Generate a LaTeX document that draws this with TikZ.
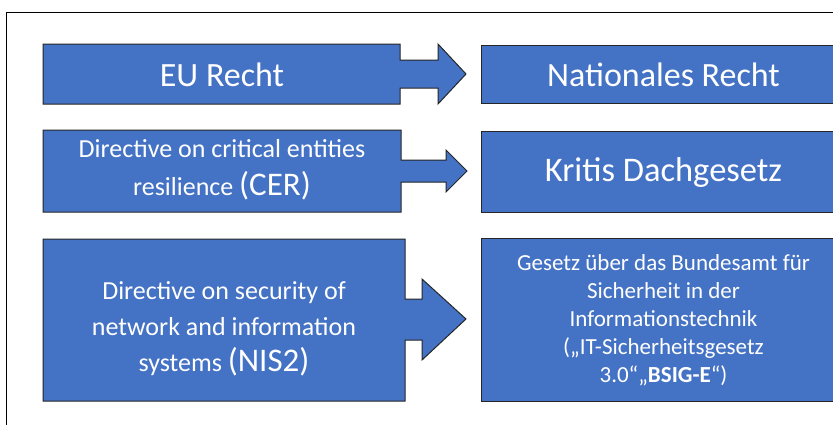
\documentclass[tikz,border=0pt]{standalone}
\usepackage{fontspec}
\setmainfont{Carlito}
\usetikzlibrary{positioning}

\definecolor{lawblue}{RGB}{68,114,196}

\tikzset{
    lawbox/.style={draw=black!85, fill=lawblue, line width=1pt},
    lawtext/.style={text=white, align=center, inner sep=0pt},
}

\begin{document}
\begin{tikzpicture}[x=1pt, y=-1pt]
    \useasboundingbox (0,0) rectangle (833,424);
    \clip (0,0) rectangle (833,424);
    \draw[line width=0.8pt] (6,12) rectangle (850,440);

    % left side: box with arrow head pointing to the right
    \draw[lawbox] (43,44) -- (400,44) -- (400,60) -- (438,60) -- (438,44) -- (466,74)
        -- (438,104) -- (438,88) -- (400,88) -- (400,104) -- (43,104) -- cycle;
    \draw[lawbox] (43,130) -- (401,130) -- (401,160) -- (446,160) -- (446,150) -- (467,171)
        -- (446,192) -- (446,182) -- (401,182) -- (401,212) -- (43,212) -- cycle;
    \draw[lawbox] (43,239) -- (405,239) -- (405,299) -- (422,299) -- (422,279) -- (466,319)
        -- (422,360) -- (422,340) -- (405,340) -- (405,401) -- (43,401) -- cycle;

    \node[lawtext, font=\fontsize{34}{40}\selectfont] (EU) at (222,75) {EU Recht};
    \node[lawtext, font=\fontsize{26}{38}\selectfont] (CER) at (222,170)
        {Directive on critical entities\\resilience {\fontsize{33}{38}\selectfont(CER)}};
    \node[lawtext, font=\fontsize{26}{36}\selectfont] (NIS2) at (224,329)
        {Directive on security of\\network and information\\systems {\fontsize{33}{36}\selectfont(NIS2)}};

    % right side: national law
    \node[lawbox, lawtext, anchor=north west, minimum width=364pt, minimum height=58pt,
        font=\fontsize{34}{40}\selectfont] (National) at (481,45) {Nationales Recht};
    \node[lawbox, lawtext, anchor=north west, minimum width=364pt, minimum height=81pt,
        font=\fontsize{34.5}{40}\selectfont] (Kritis) at (481,131) {Kritis Dachgesetz};
    \node[lawbox, lawtext, anchor=north west, minimum width=364pt, minimum height=163pt,
        font=\fontsize{23}{28}\selectfont] (BSIG) at (481,238)
        {Gesetz über das Bundesamt für\\Sicherheit in der\\Informationstechnik\\(„IT-Sicherheitsgesetz\\3.0“„\textbf{BSIG-E}“)};
\end{tikzpicture}
\end{document}
